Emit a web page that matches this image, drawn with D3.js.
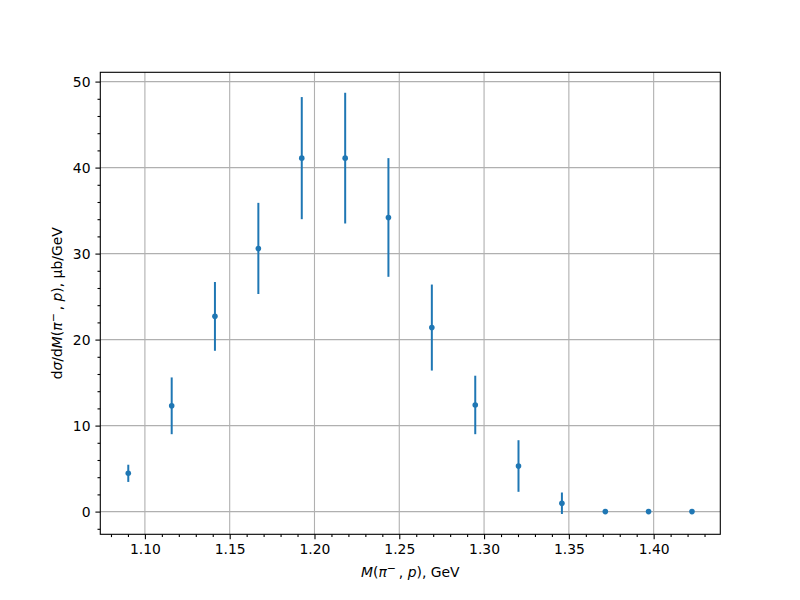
<!DOCTYPE html>
<html><head><meta charset="utf-8">
<script src="https://cdn.jsdelivr.net/npm/d3@7"></script>
<style>body{margin:0;background:#fff}svg{display:block}text{font-family:"DejaVu Sans",sans-serif}</style>
</head><body><svg id="c" width="800" height="600"></svg>
<script>
const massValues = [1.0902, 1.1158, 1.1413, 1.1669, 1.1925, 1.2181, 1.2436, 1.2692, 1.2948, 1.3203, 1.3459, 1.3715, 1.3970, 1.4226];
const crossSection = [4.45, 12.3, 22.7, 30.6, 41.1, 41.1, 34.2, 21.4, 12.4, 5.3, 0.97, 0, 0, 0];
const crossSectionErr = [1.0, 3.3, 4.0, 5.3, 7.1, 7.6, 6.9, 5.0, 3.4, 3.0, 1.25, 0, 0, 0];
const xTickValues = [1.10, 1.15, 1.20, 1.25, 1.30, 1.35, 1.40];
const yTickValues = [0, 10, 20, 30, 40, 50];

const svg = d3.select("#c");
const L = 100.3, R = 720.3, T = 72.3, B = 534.3;
const x = d3.scaleLinear().domain([1.0737, 1.4393]).range([L, R]);
const y = d3.scaleLinear().domain([-2.64, 51.08]).range([B, T]);
const blue = "#1f77b4";

// grid
const g = svg.append("g");
g.selectAll(".gx").data(xTickValues).enter().append("line")
  .attr("x1", d => x(d)).attr("x2", d => x(d)).attr("y1", T).attr("y2", B)
  .attr("stroke", "#b0b0b0").attr("stroke-width", 1.1);
g.selectAll(".gy").data(yTickValues).enter().append("line")
  .attr("y1", d => y(d)).attr("y2", d => y(d)).attr("x1", L).attr("x2", R)
  .attr("stroke", "#b0b0b0").attr("stroke-width", 1.1);

// data
const pts = massValues.map((m, i) => ({m, v: crossSection[i], e: crossSectionErr[i]}));
svg.append("g").selectAll("line").data(pts.filter(d => d.e > 0)).enter().append("line")
  .attr("x1", d => x(d.m)).attr("x2", d => x(d.m))
  .attr("y1", d => y(d.v - d.e)).attr("y2", d => y(d.v + d.e))
  .attr("stroke", blue).attr("stroke-width", 2);
svg.append("g").selectAll("circle").data(pts).enter().append("circle")
  .attr("cx", d => x(d.m)).attr("cy", d => y(d.v)).attr("r", 2.8).attr("fill", blue);

// axes
const xMinor = d3.range(1.08, 1.4395, 0.01).filter(v => !xTickValues.some(t => Math.abs(t - v) < 1e-6));
const yMinor = d3.range(-2, 51.1, 2).filter(v => !yTickValues.some(t => Math.abs(t - v) < 1e-6));
const xAxis = d3.axisBottom(x).tickValues(xTickValues).tickFormat(d3.format(".2f")).tickSize(4.9).tickPadding(4.9);
const yAxis = d3.axisLeft(y).tickValues(yTickValues).tickFormat(d3.format("d")).tickSize(4.9).tickPadding(4.9);
svg.append("g").attr("transform", `translate(0,${B})`).call(xAxis);
svg.append("g").attr("transform", `translate(${L},0)`).call(yAxis);
svg.append("g").attr("transform", `translate(0,${B})`).call(d3.axisBottom(x).tickValues(xMinor).tickFormat("").tickSize(2.8));
svg.append("g").attr("transform", `translate(${L},0)`).call(d3.axisLeft(y).tickValues(yMinor).tickFormat("").tickSize(2.8));
svg.selectAll(".domain").remove();
svg.selectAll(".tick line").attr("stroke", "#000").attr("stroke-width", 1.1);
svg.selectAll(".tick text").attr("font-size", "13.9px").attr("fill", "#000").attr("font-family", "DejaVu Sans");
svg.append("rect").attr("x", L).attr("y", T).attr("width", R - L).attr("height", B - T)
  .attr("fill", "none").attr("stroke", "#000").attr("stroke-width", 1.1);

// labels
function mathLabel(sel, parts) {
  parts.forEach(p => {
    const t = sel.append("tspan").text(p.t);
    if (p.i) t.attr("font-style", "italic");
    if (p.dy) t.attr("dy", p.dy);
    if (p.fs) t.attr("font-size", p.fs);
  });
}
const xl = svg.append("text").attr("x", (L + R) / 2).attr("y", 577).attr("text-anchor", "middle").attr("font-size", "13.9px");
mathLabel(xl, [{t:"M", i:1}, {t:"("}, {t:"π", i:1}, {t:"−", dy:-5, fs:"11px"}, {t:"\u2009, ", dy:5}, {t:"p", i:1}, {t:"), GeV"}]);

const yl = svg.append("text").attr("transform", `translate(62,${(T + B) / 2}) rotate(-90)`).attr("text-anchor", "middle").attr("font-size", "13.9px");
mathLabel(yl, [{t:"d"}, {t:"σ", i:1}, {t:"/d"}, {t:"M", i:1}, {t:"("}, {t:"π", i:1}, {t:"−", dy:-5, fs:"11px"}, {t:"\u2009, ", dy:5}, {t:"p", i:1}, {t:"), μb/GeV"}]);
</script></body></html>
